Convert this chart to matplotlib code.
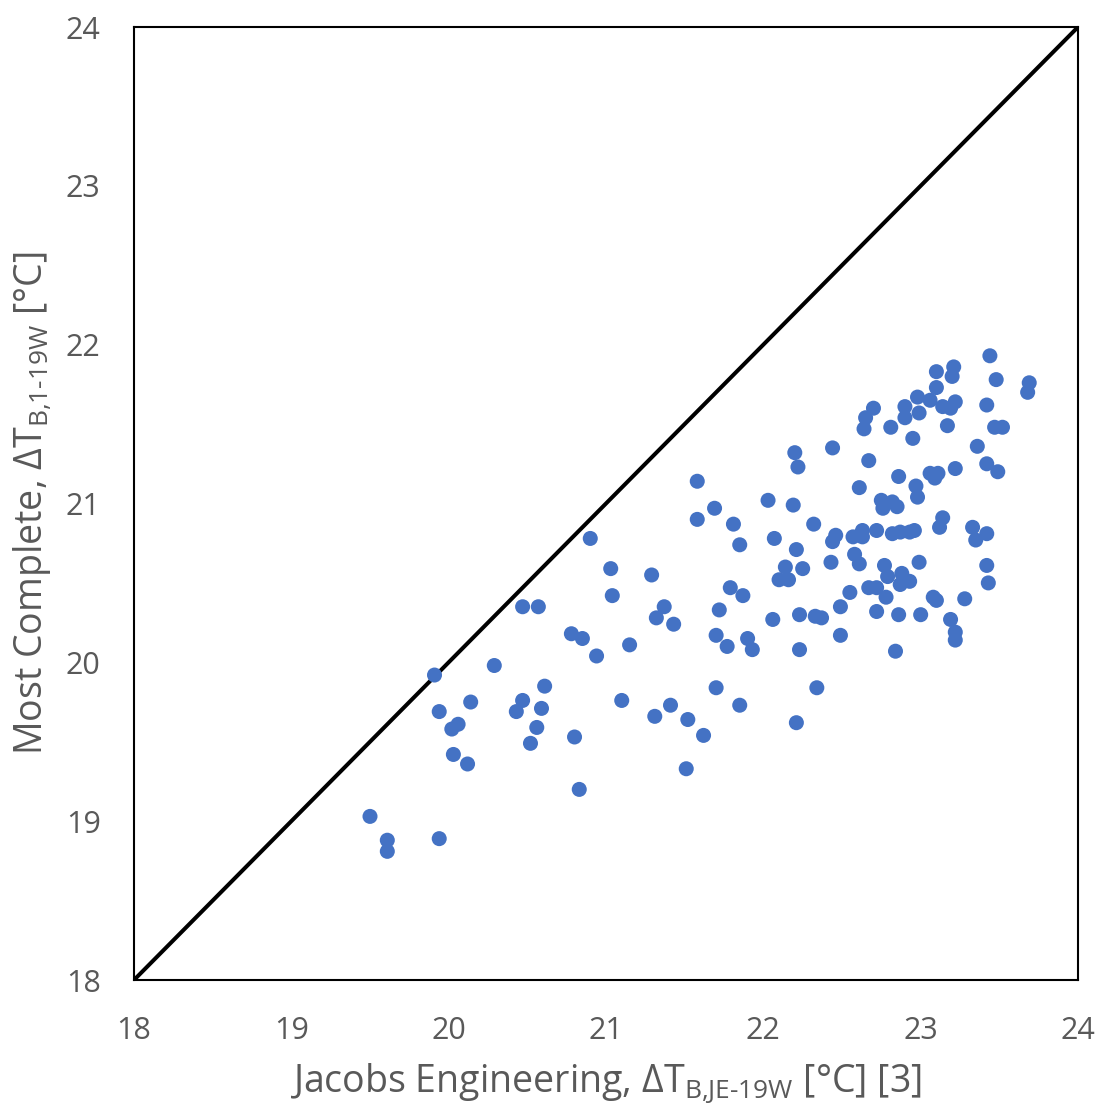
import matplotlib
matplotlib.use("Agg")
import matplotlib.pyplot as plt

# Data
jacobs = [19.50, 19.61, 19.61, 19.94, 19.91, 19.94, 20.06, 20.02, 20.14, 20.03,
          20.12, 20.29, 20.47, 20.57, 20.47, 20.43, 20.59, 20.61, 20.56, 20.52,
          20.80, 20.83, 20.90, 20.78, 20.85, 20.94, 21.03, 21.04, 21.10, 21.15,
          21.29, 21.31, 21.32, 21.37, 21.41, 21.43, 21.51, 21.52, 21.62, 21.58,
          21.58, 21.69, 21.70, 21.70, 21.72, 21.77, 21.81, 21.85, 21.79, 21.87,
          21.85, 21.90, 21.93, 22.03, 22.06, 22.07, 22.14, 22.10, 22.16, 22.21,
          22.20, 22.22, 22.19, 22.25, 22.23, 22.23, 22.21, 22.32, 22.33, 22.37,
          22.34, 22.44, 22.46, 22.44, 22.43, 22.49, 22.49, 22.55, 22.57, 22.58,
          22.61, 22.61, 22.63, 22.63, 22.67, 22.67, 22.72, 22.72, 22.72, 22.75,
          22.76, 22.82, 22.85, 22.77, 22.79, 22.78, 22.82, 22.84, 22.86, 22.87,
          22.93, 22.96, 22.88, 22.87, 22.93, 22.99, 22.97, 22.98, 22.86, 23.00,
          23.08, 23.10, 23.09, 23.06, 23.11, 23.14, 23.12, 23.19, 23.22, 23.22,
          23.28, 23.33, 23.35, 23.42, 23.42, 23.43, 23.22, 23.42, 23.49, 23.36,
          22.95, 22.64, 22.81, 23.17, 23.47, 23.52, 22.65, 22.70, 22.90, 22.90,
          22.99, 22.98, 23.06, 23.14, 23.22, 23.19, 23.10, 23.10, 23.21, 23.20,
          23.44, 23.48, 23.69, 23.68, 23.42]

most_complete = [19.03, 18.88, 18.81, 18.89, 19.92, 19.69, 19.61, 19.58, 19.75, 19.42,
                 19.36, 19.98, 20.35, 20.35, 19.76, 19.69, 19.71, 19.85, 19.59, 19.49,
                 19.53, 19.20, 20.78, 20.18, 20.15, 20.04, 20.59, 20.42, 19.76, 20.11,
                 20.55, 19.66, 20.28, 20.35, 19.73, 20.24, 19.33, 19.64, 19.54, 20.90,
                 21.14, 20.97, 20.17, 19.84, 20.33, 20.10, 20.87, 20.74, 20.47, 20.42,
                 19.73, 20.15, 20.08, 21.02, 20.27, 20.78, 20.60, 20.52, 20.52, 20.71,
                 21.32, 21.23, 20.99, 20.59, 20.30, 20.08, 19.62, 20.87, 20.29, 20.28,
                 19.84, 21.35, 20.80, 20.76, 20.63, 20.35, 20.17, 20.44, 20.79, 20.68,
                 20.62, 21.10, 20.83, 20.79, 21.27, 20.47, 20.47, 20.83, 20.32, 21.02,
                 20.97, 21.01, 20.98, 20.61, 20.54, 20.41, 20.81, 20.07, 20.30, 20.82,
                 20.82, 20.83, 20.56, 20.49, 20.51, 20.63, 21.11, 21.04, 21.17, 20.30,
                 20.41, 20.39, 21.16, 21.19, 21.19, 20.91, 20.85, 20.27, 20.19, 20.14,
                 20.40, 20.85, 20.77, 20.81, 20.61, 20.50, 21.22, 21.25, 21.20, 21.36,
                 21.41, 21.47, 21.48, 21.49, 21.48, 21.48, 21.54, 21.60, 21.61, 21.54,
                 21.57, 21.67, 21.65, 21.61, 21.64, 21.60, 21.73, 21.83, 21.86, 21.80,
                 21.93, 21.78, 21.76, 21.70, 21.62]

axis_range = [18, 24]
ticks = [18, 19, 20, 21, 22, 23, 24]

plt.rcParams['font.family'] = ['Open Sans', 'DejaVu Sans']
plt.rcParams['mathtext.fontset'] = 'custom'
plt.rcParams['mathtext.rm'] = 'Open Sans'
plt.rcParams['mathtext.it'] = 'Open Sans'
plt.rcParams['mathtext.bf'] = 'Open Sans'

gray = '#595959'
blue = '#4472C4'

fig = plt.figure(figsize=(11.02, 11.12), dpi=100)
ax = fig.add_axes([134/1102, 1 - 980/1112, (1078-134)/1102, (980-27)/1112])

ax.plot(axis_range, axis_range, color='black', lw=2.9, zorder=2, solid_capstyle='butt')
ax.scatter(jacobs, most_complete, s=117, color=blue, edgecolors='none', zorder=3)

ax.set_xlim(axis_range)
ax.set_ylim(axis_range)
ax.set_xticks(ticks)
ax.set_yticks(ticks)
ax.tick_params(axis='both', length=0, labelsize=22, labelcolor=gray)
ax.tick_params(axis='x', pad=26)
ax.tick_params(axis='y', pad=24)
for sp in ax.spines.values():
    sp.set_color('black')
    sp.set_linewidth(1.5)

ax.set_xlabel(r'Jacobs Engineering, ΔT$_{\mathrm{B{,}JE\text{-}19W}}$ [°C] [3]',
              fontsize=27, color=gray)
ax.set_ylabel(r'Most Complete, ΔT$_{\mathrm{B{,}1\text{-}19W}}$ [°C]',
              fontsize=27, color=gray)
ax.xaxis.set_label_coords(0.5, -0.086)
ax.yaxis.set_label_coords(-0.086, 0.5)

fig.savefig('out.png', dpi=100)
